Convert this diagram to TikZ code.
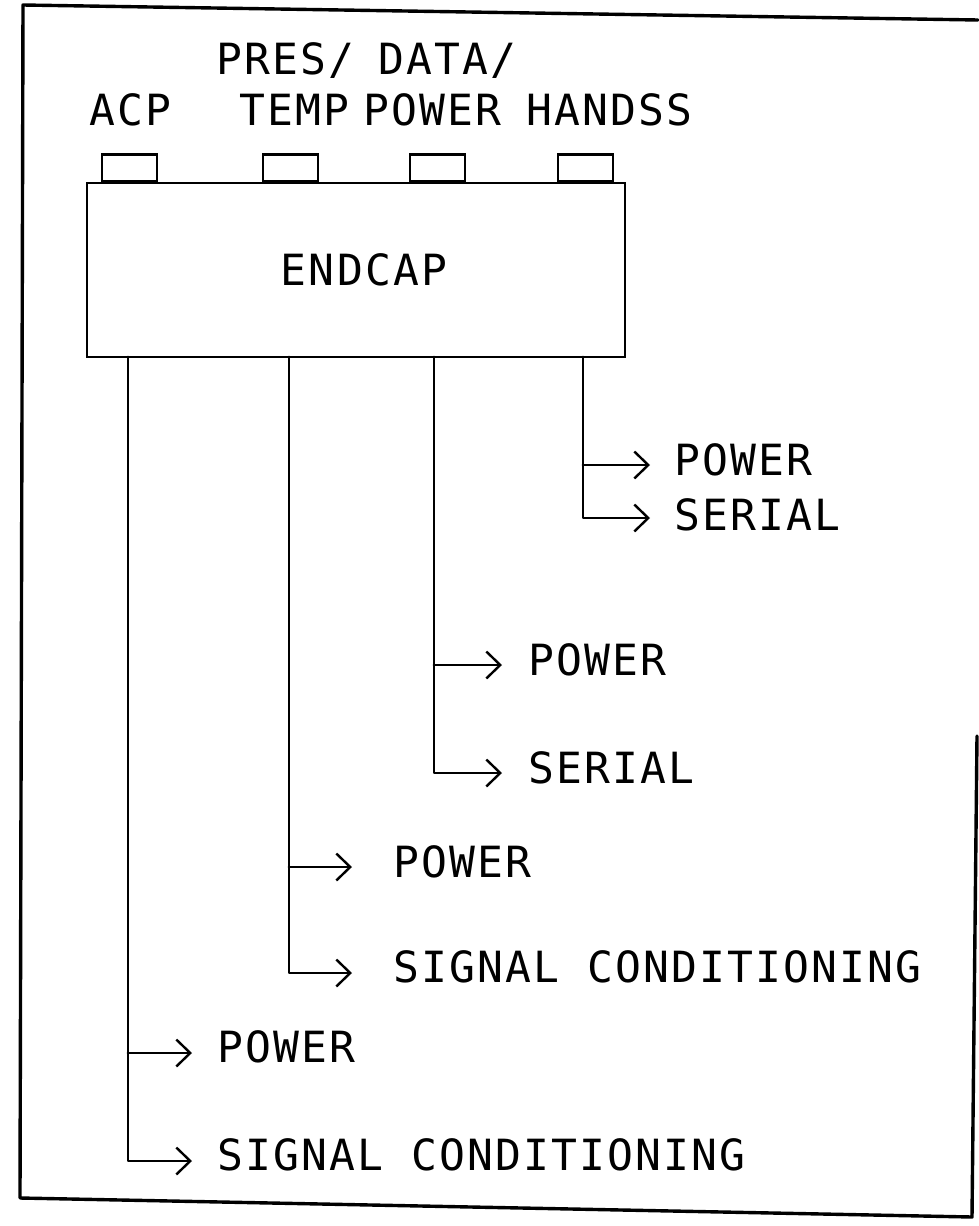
\documentclass[tikz,border=0pt]{standalone}
\usepackage{fontspec}
\usetikzlibrary{arrows.meta}
\newfontfamily\plotfont[LetterSpace=5]{DejaVu Sans Mono}
\begin{document}
\begin{tikzpicture}[x=1pt,y=-1pt,
  wire/.style={line width=2.8pt,line cap=round,line join=round},
  arrowline/.style={wire,-{Straight Barb[length=14pt,width=27pt,line width=2.4pt]}},
  lab/.style={anchor=base west,inner sep=0pt,font=\plotfont\fontsize{43}{50}\selectfont},
  tabbox/.style={draw,line width=2.8pt,minimum width=55pt,minimum height=27pt,inner sep=0pt,anchor=south},
  frame/.style={line width=3.4pt,line cap=round,line join=round}]
\useasboundingbox (0,0) rectangle (978,1226);
% outer frame
\coordinate (f1) at (23,5);
\coordinate (f2) at (978,20);
\coordinate (f3) at (20,1198);
\coordinate (f4) at (972,1217);
\coordinate (f5) at (977,736);
\draw[frame] (f2) -- (f1) -- (f3) -- (f4) -- (f5);
% main box
\node[draw,line width=2.8pt,minimum width=538pt,minimum height=174pt,inner sep=0pt,
      font=\plotfont\fontsize{43}{50}\selectfont] (endcap) at (356,270) {\hspace*{16pt}ENDCAP};
% connector tabs
\node[tabbox] (tab1) at (129.5,183) {};
\node[tabbox] (tab2) at (290.5,183) {};
\node[tabbox] (tab3) at (437.5,183) {};
\node[tabbox] (tab4) at (585.5,183) {};
% top labels
\node[lab] (lacp) at (89,125) {ACP};
\node[lab] (lpres) at (216,74) {PRES/};
\node[lab] (ldata) at (378,74) {DATA/};
\node[lab] (ltemp) at (239,125) {TEMP};
\node[lab] (lpow) at (363,125) {POWER};
\node[lab] (lhand) at (526,125) {HANDSS};
% output labels
\node[lab] (g4a) at (674,475) {POWER};
\node[lab] (g4b) at (674,530) {SERIAL};
\node[lab] (g3a) at (528,675) {POWER};
\node[lab] (g3b) at (528,783) {SERIAL};
\node[lab] (g2a) at (393,877) {POWER};
\node[lab] (g2b) at (393,982) {SIGNAL CONDITIONING};
\node[lab] (g1a) at (217,1062) {POWER};
\node[lab] (g1b) at (217,1170) {SIGNAL CONDITIONING};
% stems and branch points
\coordinate (s4) at (583,357); \coordinate (j4) at (583,465);
\coordinate (t4a) at (650,465); \coordinate (t4b) at (650,518);
\coordinate (s3) at (434,357); \coordinate (j3) at (434,665);
\coordinate (t3a) at (502,665); \coordinate (t3b) at (502,773);
\coordinate (s2) at (289,357); \coordinate (j2) at (289,867);
\coordinate (t2a) at (352,867); \coordinate (t2b) at (352,973);
\coordinate (s1) at (128,357); \coordinate (j1) at (128,1053);
\coordinate (t1a) at (192,1053); \coordinate (t1b) at (192,1161);
\draw[arrowline] (s4) |- (t4b);
\draw[arrowline] (j4) -- (t4a);
\draw[arrowline] (s3) |- (t3b);
\draw[arrowline] (j3) -- (t3a);
\draw[arrowline] (s2) |- (t2b);
\draw[arrowline] (j2) -- (t2a);
\draw[arrowline] (s1) |- (t1b);
\draw[arrowline] (j1) -- (t1a);
\end{tikzpicture}
\end{document}
